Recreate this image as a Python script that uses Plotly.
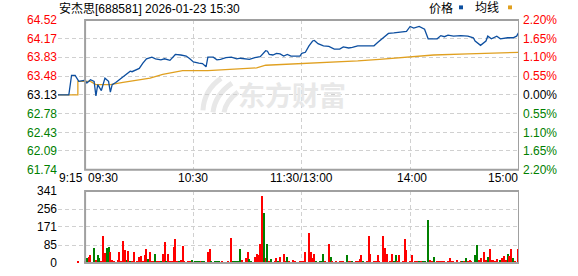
import plotly.graph_objects as go

title_text = "安杰思[688581] 2026-01-23 15:30"
prev_close = 63.13
price_ticks = [64.52, 64.17, 63.83, 63.48, 63.13, 62.78, 62.43, 62.09, 61.74]
pct_labels = ["2.20%", "1.65%", "1.10%", "0.55%", "0.00%", "0.55%", "1.10%", "1.65%", "2.20%"]
vol_ticks = [0, 85, 171, 256, 341]
time_labels = ["9:15", "09:30", "10:30", "11:30/13:00", "14:00", "15:00"]
time_label_minutes = [-15, 0, 60, 120, 180, 240]

price_minutes = [-15, -9, -7.5, -5.5, -3.5, 0, 1, 3, 5, 6, 7, 9, 11, 13, 14, 15, 17, 19, 21, 23, 25, 26, 28,
                 30, 32, 34, 37, 39, 42, 44, 47, 50, 53, 56, 58, 60, 63, 65, 67, 68, 71, 73, 75, 78, 81, 84,
                 86, 89, 91, 94, 97, 100, 101, 102, 104, 106, 108, 110, 112, 114, 116, 119, 120, 122, 124,
                 126, 127, 129, 132, 135, 138, 141, 143, 146, 148, 151, 155, 160, 162, 165, 168, 171, 175,
                 178, 180, 182, 185, 187, 188, 190, 195, 197, 199, 201, 204, 208, 212, 215, 216, 219, 222,
                 223, 225, 228, 230, 234, 237, 239, 240]
price_values = [63.13, 63.13, 63.49, 63.49, 63.38, 63.40, 63.35, 63.41, 63.38, 63.11, 63.32, 63.21, 63.44,
                63.38, 63.18, 63.32, 63.36, 63.41, 63.47, 63.51, 63.57, 63.56, 63.59, 63.62, 63.72, 63.80,
                63.83, 63.80, 63.78, 63.80, 63.77, 63.88, 63.87, 63.85, 63.80, 63.74, 63.72, 63.71, 63.65,
                63.83, 63.83, 63.78, 63.79, 63.82, 63.83, 63.80, 63.81, 63.80, 63.79, 63.82, 63.84, 63.95,
                63.94, 63.88, 63.87, 63.90, 63.89, 63.85, 63.88, 63.85, 63.85, 63.85, 63.90, 63.92, 64.04,
                64.13, 64.14, 64.08, 64.04, 64.03, 63.98, 63.98, 64.02, 64.00, 64.01, 64.04, 64.04, 64.04,
                64.10, 64.19, 64.27, 64.28, 64.30, 64.31, 64.40, 64.37, 64.40, 64.37, 64.35, 64.17, 64.17,
                64.23, 64.21, 64.24, 64.22, 64.23, 64.22, 64.19, 64.13, 64.05, 64.13, 64.22, 64.17, 64.22,
                64.17, 64.19, 64.19, 64.22, 64.28]

avg_minutes = [-15, -4, -4, 0, 3, 6, 14, 21, 29, 36, 43, 51, 54, 68, 75, 82, 95, 100, 120, 134, 151, 163,
               178, 193, 212, 232, 240]
avg_values = [63.13, 63.13, 63.38, 63.38, 63.38, 63.32, 63.32, 63.36, 63.41, 63.44, 63.51, 63.56, 63.58,
              63.58, 63.59, 63.60, 63.63, 63.68, 63.71, 63.74, 63.76, 63.79, 63.83, 63.87, 63.89, 63.92, 63.92]

# volume per minute (minute index, volume, r = up / g = down), ten entries per row
vol_minutes = [-4, 0, 1, 2, 3, 5, 6, 7, 8, 9,
               10, 11, 12, 13, 14, 15, 16, 18, 19, 20,
               21, 22, 23, 24, 25, 26, 27, 29, 30, 31,
               32, 33, 34, 35, 36, 37, 38, 39, 40, 41,
               42, 43, 44, 45, 46, 47, 48, 49, 50, 51,
               52, 53, 54, 55, 57, 58, 59, 61, 62, 63,
               64, 65, 66, 68, 69, 70, 72, 73, 74, 76,
               79, 81, 82, 83, 84, 85, 86, 87, 89, 90,
               91, 92, 94, 95, 96, 97, 98, 99, 100, 101,
               102, 103, 105, 106, 107, 108, 110, 111, 112, 113,
               115, 116, 119, 120, 121, 122, 124, 125, 126, 127,
               128, 130, 131, 132, 133, 135, 136, 137, 139, 141,
               142, 143, 145, 146, 147, 148, 150, 151, 152, 153,
               154, 156, 157, 158, 160, 161, 162, 163, 165, 166,
               167, 169, 170, 171, 172, 173, 174, 176, 177, 178,
               180, 181, 183, 184, 185, 186, 187, 188, 190, 191,
               192, 193, 195, 196, 197, 198, 199, 201, 202, 203,
               204, 206, 208, 209, 210, 211, 212, 213, 214, 216,
               217, 218, 219, 221, 222, 223, 224, 225, 226, 227,
               228, 230, 231, 232, 233, 234, 235, 236, 237, 238,
               240]
vol_values = [5, 5, 23, 26, 36, 70, 15, 36, 23, 5,
              127, 46, 70, 74, 51, 15, 5, 15, 51, 5,
              105, 59, 15, 56, 8, 5, 54, 5, 28, 34,
              5, 37, 65, 19, 50, 5, 8, 43, 5, 5,
              10, 43, 98, 8, 40, 5, 5, 76, 112, 10,
              5, 15, 82, 5, 8, 5, 15, 5, 5, 5,
              5, 5, 5, 50, 65, 5, 5, 5, 5, 5,
              5, 116, 5, 5, 5, 5, 65, 15, 23, 50,
              19, 8, 28, 42, 39, 90, 316, 237, 23, 90,
              5, 19, 5, 23, 5, 26, 42, 5, 28, 5,
              14, 5, 5, 5, 5, 54, 140, 50, 23, 42,
              8, 10, 5, 43, 10, 88, 26, 5, 5, 5,
              5, 8, 36, 8, 5, 5, 5, 5, 19, 39,
              5, 8, 130, 40, 5, 5, 37, 5, 130, 70,
              42, 5, 42, 8, 36, 5, 36, 5, 112, 59,
              5, 36, 5, 5, 5, 5, 5, 5, 205, 12,
              5, 26, 5, 5, 5, 5, 5, 5, 23, 5,
              5, 12, 5, 5, 5, 23, 5, 15, 5, 36,
              84, 15, 23, 51, 15, 26, 65, 12, 15, 8,
              19, 15, 23, 34, 15, 42, 31, 65, 23, 5,
              65]
vol_dirs = ["r", "r", "g", "r", "r", "g", "r", "g", "g", "r",
            "r", "r", "g", "g", "r", "r", "r", "r", "r", "r",
            "r", "r", "g", "r", "g", "r", "r", "r", "r", "r",
            "r", "r", "r", "g", "r", "r", "r", "g", "r", "r",
            "g", "r", "r", "g", "r", "r", "r", "r", "r", "r",
            "g", "r", "r", "r", "r", "r", "g", "g", "g", "g",
            "r", "g", "g", "r", "r", "g", "g", "g", "g", "r",
            "r", "r", "g", "g", "g", "g", "g", "r", "r", "r",
            "g", "g", "r", "r", "r", "r", "r", "g", "r", "g",
            "r", "g", "r", "r", "g", "r", "r", "r", "g", "r",
            "r", "r", "r", "r", "r", "r", "r", "r", "r", "r",
            "g", "g", "g", "g", "r", "r", "g", "r", "r", "r",
            "r", "r", "g", "r", "r", "g", "r", "r", "r", "r",
            "g", "r", "r", "r", "r", "r", "r", "r", "r", "r",
            "r", "r", "r", "g", "g", "r", "r", "r", "r", "r",
            "r", "r", "r", "r", "g", "r", "g", "g", "g", "r",
            "r", "g", "r", "r", "r", "r", "r", "r", "r", "r",
            "r", "r", "r", "g", "r", "g", "r", "r", "r", "g",
            "g", "r", "r", "r", "r", "g", "r", "r", "r", "r",
            "r", "g", "r", "r", "r", "g", "r", "r", "g", "r",
            "r"]

RED = "#ff0000"
GREEN = "#008000"
BLACK = "#000000"


def tick_color(v):
    if abs(v - prev_close) < 1e-6:
        return BLACK
    return RED if v > prev_close else GREEN


price_ticktext = ['<span style="color:%s">%.2f</span>' % (tick_color(v), v) for v in price_ticks]
pct_ticktext = ['<span style="color:%s">%s</span>' % (tick_color(v), t) for v, t in zip(price_ticks, pct_labels)]
bar_colors = [RED if d == "r" else GREEN for d in vol_dirs]

FONT = "Liberation Sans, Arial, Noto Sans CJK SC, sans-serif"
GRID = "#d0d0d0"
DASH = "4px,3px"
XR = [-15, 240.3]
BLUE = "#0d4fa0"
ORANGE = "#e0a020"

fig = go.Figure()
fig.add_trace(go.Scatter(x=avg_minutes, y=avg_values, mode="lines",
                         line=dict(color=ORANGE, width=1.3), xaxis="x", yaxis="y", hoverinfo="skip"))
fig.add_trace(go.Scatter(x=price_minutes, y=price_values, mode="lines",
                         line=dict(color=BLUE, width=1.3), xaxis="x", yaxis="y", hoverinfo="skip"))
fig.add_trace(go.Bar(x=vol_minutes, y=vol_values, marker=dict(color=bar_colors, line=dict(width=0)),
                     width=0.6, xaxis="x2", yaxis="y2", hoverinfo="skip"))
fig.add_trace(go.Scatter(x=[XR[0]], y=[prev_close], mode="markers", marker=dict(opacity=0),
                         xaxis="x", yaxis="y3", hoverinfo="skip"))

xcommon = dict(range=XR, tickvals=[-15, 60, 120, 180], showticklabels=False, showgrid=True,
               gridcolor=GRID, griddash=DASH, gridwidth=1, zeroline=False, showline=False, ticks="",
               fixedrange=True)

fig.update_layout(
    width=578, height=276, autosize=False,
    margin=dict(l=58, r=59, t=20, b=6, pad=0),
    paper_bgcolor="white", plot_bgcolor="white",
    showlegend=False,
    font=dict(family=FONT, size=12, color="#000000"),
    bargap=0,
    xaxis=dict(domain=[0, 1], anchor="y", **xcommon),
    xaxis2=dict(domain=[0, 1], anchor="y2", **xcommon),
    yaxis=dict(domain=[0.384, 1], range=[price_ticks[-1], price_ticks[0]], tickvals=price_ticks,
               ticktext=price_ticktext, showgrid=True, gridcolor=GRID, griddash=DASH, zeroline=False,
               ticks="", showline=False, tickfont=dict(family=FONT, size=12), fixedrange=True),
    yaxis3=dict(overlaying="y", side="right", anchor="x", range=[price_ticks[-1], price_ticks[0]],
                tickvals=price_ticks, ticktext=pct_ticktext, showgrid=False, zeroline=False, ticks="",
                showline=False, tickfont=dict(family=FONT, size=12), ticklabelstandoff=3,
                fixedrange=True),
    yaxis2=dict(domain=[0, 0.296], range=[0, 341], tickvals=vol_ticks, showgrid=True, gridcolor=GRID,
                griddash=DASH, zeroline=False, ticks="", showline=False,
                tickfont=dict(family=FONT, size=12, color="#000000"), fixedrange=True),
)

BOX = dict(color="#a0a0a0", width=2)
fig.add_shape(type="rect", xref="x", yref="y domain", x0=0, x1=XR[1], y0=0, y1=1, line=BOX, layer="above")
fig.add_shape(type="rect", xref="x2", yref="y2 domain", x0=0, x1=XR[1], y0=0, y1=1, line=BOX, layer="above")

# time labels
anchors = ["left", "left", "center", "center", "center", "right"]
shifts = [-1, 1, 0, 0, 2, 2]
for m, t, a, s in zip(time_label_minutes, time_labels, anchors, shifts):
    fig.add_annotation(x=m, y=0.348, xref="x", yref="paper", text=t, showarrow=False, xanchor=a,
                       yanchor="middle", xshift=s, font=dict(family=FONT, size=12, color="#000000"))

# title
fig.add_annotation(x=0, y=1.048, xref="paper", yref="paper", text=title_text, showarrow=False,
                   xanchor="left", yanchor="middle", xshift=-1,
                   font=dict(family=FONT, size=12, color="#000000"))

# legend
fig.add_annotation(x=(441 - 58) / 461, y=1.048, xref="paper", yref="paper", text="价格", showarrow=False,
                   xanchor="center", yanchor="middle", font=dict(family=FONT, size=12, color="#000000"))
fig.add_annotation(x=(487 - 58) / 461, y=1.048, xref="paper", yref="paper", text="均线", showarrow=False,
                   xanchor="center", yanchor="middle", font=dict(family=FONT, size=12, color="#000000"))
fig.add_shape(type="rect", xref="paper", yref="paper", x0=(459 - 58) / 461, x1=(463 - 58) / 461,
              y0=(270 - 9) / 250, y1=(270 - 5) / 250, fillcolor=BLUE, line=dict(width=0))
fig.add_shape(type="rect", xref="paper", yref="paper", x0=(508 - 58) / 461, x1=(512 - 58) / 461,
              y0=(270 - 9) / 250, y1=(270 - 5) / 250, fillcolor=ORANGE, line=dict(width=0))


# watermark (logo stripes + text)
def px(xp, yp):
    return "%.4f %.4f" % ((xp - 58) / 461, (270 - yp) / 250)


WM = "#e8e8e8"
for (a, b, c) in [((203, 113), (204, 92), (221, 80)), ((213, 115), (215, 97), (232, 85)),
                  ((224, 115), (226, 103), (238, 94))]:
    fig.add_shape(type="path", xref="paper", yref="paper",
                  path="M %s Q %s %s" % (px(*a), px(*b), px(*c)),
                  line=dict(color=WM, width=5), layer="below")
fig.add_annotation(x=(292 - 58) / 461, y=(270 - 97) / 250, xref="paper", yref="paper", text="<b>东方财富</b>",
                   showarrow=False, xanchor="center", yanchor="middle",
                   font=dict(family="Noto Sans CJK SC", size=27, color=WM))

fig.write_html("out.html")
